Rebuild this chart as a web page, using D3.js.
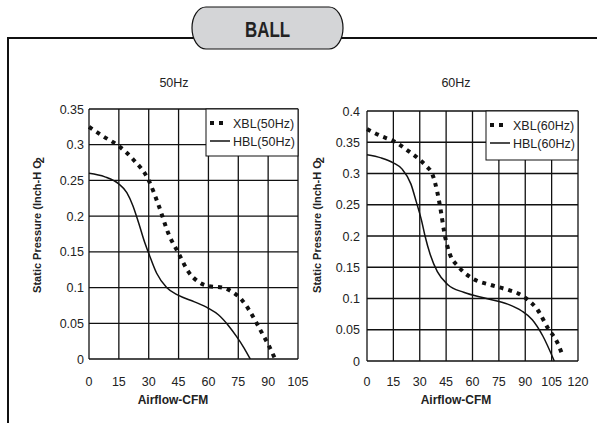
<!DOCTYPE html>
<html>
<head>
<meta charset="utf-8">
<script src="https://cdn.jsdelivr.net/npm/d3@7"></script>
<style>
  html, body { margin: 0; padding: 0; background: #fff; }
  svg { display: block; font-family: "Liberation Sans", Arial, sans-serif; }
</style>
</head>
<body>
<div id="chart"></div>
<script>
// values
const xbl50 = [[0,0.325],[7,0.312],[15,0.298],[22,0.28],[30,0.25],[35,0.215],[40,0.175],[45,0.148],[50,0.122],[55,0.108],[60,0.102],[67,0.1],[72,0.094],[77,0.082],[81,0.066],[86,0.041],[91,0.015],[93.5,0.0]];
const hbl50 = [[0,0.26],[8,0.255],[15,0.245],[19,0.233],[22,0.215],[25,0.19],[28,0.163],[30,0.148],[34,0.12],[39,0.1],[45,0.089],[53,0.08],[60,0.071],[65,0.062],[70,0.047],[74,0.032],[78,0.015],[81,0.0]];
const xbl60 = [[0,0.371],[8,0.36],[15,0.352],[24,0.335],[30,0.322],[34,0.311],[37,0.3],[40,0.27],[42,0.24],[44,0.205],[47,0.172],[52,0.151],[60,0.132],[70,0.122],[80,0.114],[86,0.108],[91,0.099],[97,0.082],[103,0.052],[108,0.031],[111.5,0.007]];
const hbl60 = [[0,0.33],[8,0.325],[15,0.317],[20,0.307],[25,0.283],[28,0.255],[31,0.225],[33,0.2],[36,0.17],[40,0.143],[46,0.122],[55,0.11],[68,0.1],[80,0.091],[88,0.08],[94,0.066],[100,0.04],[106.5,0.0]];

const xTicks50 = [0,15,30,45,60,75,90,105];
const yTicks50 = [0,0.05,0.1,0.15,0.2,0.25,0.3,0.35];
const xTicks60 = [0,15,30,45,60,75,90,105,120];
const yTicks60 = [0,0.05,0.1,0.15,0.2,0.25,0.3,0.35,0.4];

const W = 597, H = 423;
const FS = 12.5;
const svg = d3.select("#chart").append("svg").attr("width", W).attr("height", H);

// outer frame + BALL header
svg.append("path")
  .attr("d", "M8,423 L8,38 L597,38")
  .attr("fill", "none").attr("stroke", "#111").attr("stroke-width", 2);
svg.append("rect")
  .attr("x", 192).attr("y", 7).attr("width", 151).attr("height", 42)
  .attr("rx", 14).attr("ry", 21)
  .attr("fill", "#d4d5d7").attr("stroke", "#111").attr("stroke-width", 1.2);
svg.append("text")
  .attr("x", 245).attr("y", 37)
  .attr("textLength", 45).attr("lengthAdjust", "spacingAndGlyphs")
  .attr("font-weight", "bold").attr("font-size", 22).attr("fill", "#222")
  .text("BALL");

function panel(o) {
  const x = d3.scaleLinear().domain([0, o.xMax]).range([o.left, o.right]);
  const y = d3.scaleLinear().domain([0, o.yMax]).range([o.bottom, o.top]);
  const g = svg.append("g");

  g.append("text").attr("x", o.titleX).attr("y", 87).attr("text-anchor", "middle")
    .attr("font-size", FS).attr("fill", "#222").text(o.title);

  // grid
  g.selectAll(".vx").data(o.xTicks).enter().append("line")
    .attr("x1", d => x(d)).attr("x2", d => x(d))
    .attr("y1", o.top).attr("y2", o.bottom)
    .attr("stroke", "#111").attr("stroke-width", 1.3);
  g.selectAll(".hy").data(o.yTicks).enter().append("line")
    .attr("y1", d => y(d)).attr("y2", d => y(d))
    .attr("x1", o.left).attr("x2", o.right)
    .attr("stroke", "#111").attr("stroke-width", 1.3);

  // tick labels
  g.selectAll(".xl").data(o.xTicks).enter().append("text")
    .attr("x", d => x(d)).attr("y", 386).attr("text-anchor", "middle")
    .attr("font-size", FS).attr("fill", "#222").text(d => d);
  g.selectAll(".yl").data(o.yTicks).enter().append("text")
    .attr("x", o.left - o.yPad).attr("y", d => y(d) + 4.5).attr("text-anchor", "end")
    .attr("font-size", FS).attr("fill", "#222").text(d => d);

  // axis titles
  g.append("text").attr("x", o.xTitleX).attr("y", 404).attr("text-anchor", "middle")
    .attr("font-size", 12).attr("font-weight", "bold").attr("fill", "#222")
    .text("Airflow-CFM");
  const yt = g.append("text")
    .attr("transform", `translate(${o.yTitleX},225) rotate(-90)`)
    .attr("text-anchor", "middle")
    .attr("font-size", 11).attr("font-weight", "bold").attr("fill", "#222");
  yt.append("tspan").text("Static Pressure (Inch-H O");
  yt.append("tspan").attr("dy", 3).attr("dx", -3).text("2");

  const line = d3.line().x(d => x(d[0])).y(d => y(d[1])).curve(d3.curveMonotoneX);

  g.append("path").datum(o.solid).attr("d", line)
    .attr("fill", "none").attr("stroke", "#111").attr("stroke-width", 1.5);
  g.append("path").datum(o.dotted).attr("d", line)
    .attr("fill", "none").attr("stroke", "#111").attr("stroke-width", 4)
    .attr("stroke-dasharray", "4,5");

  // legend
  const lg = g.append("g");
  lg.append("rect").attr("x", o.legX).attr("y", o.top).attr("width", o.right - o.legX)
    .attr("height", o.legH).attr("fill", "#fff").attr("stroke", "#111").attr("stroke-width", 1);
  lg.append("line").attr("x1", o.legX + 4).attr("x2", o.legX + 22)
    .attr("y1", o.top + 14).attr("y2", o.top + 14)
    .attr("stroke", "#111").attr("stroke-width", 4).attr("stroke-dasharray", "4,5");
  lg.append("line").attr("x1", o.legX + 4).attr("x2", o.legX + 24)
    .attr("y1", o.top + 32).attr("y2", o.top + 32)
    .attr("stroke", "#111").attr("stroke-width", 1.5);
  lg.append("text").attr("x", o.legX + 27).attr("y", o.top + 18.5)
    .attr("font-size", FS).attr("fill", "#222").text(o.names[0]);
  lg.append("text").attr("x", o.legX + 27).attr("y", o.top + 36.5)
    .attr("font-size", FS).attr("fill", "#222").text(o.names[1]);
}

panel({
  left: 89, right: 298, top: 109, bottom: 359,
  xMax: 105, yMax: 0.35, xTicks: xTicks50, yTicks: yTicks50,
  title: "50Hz", titleX: 174, xTitleX: 173, yTitleX: 41, yPad: 5,
  dotted: xbl50, solid: hbl50, names: ["XBL(50Hz)", "HBL(50Hz)"],
  legX: 206, legH: 47
});
panel({
  left: 367, right: 578, top: 111, bottom: 361,
  xMax: 120, yMax: 0.4, xTicks: xTicks60, yTicks: yTicks60,
  title: "60Hz", titleX: 456, xTitleX: 456, yTitleX: 321, yPad: 7,
  dotted: xbl60, solid: hbl60, names: ["XBL(60Hz)", "HBL(60Hz)"],
  legX: 486, legH: 49
});
</script>
</body>
</html>
